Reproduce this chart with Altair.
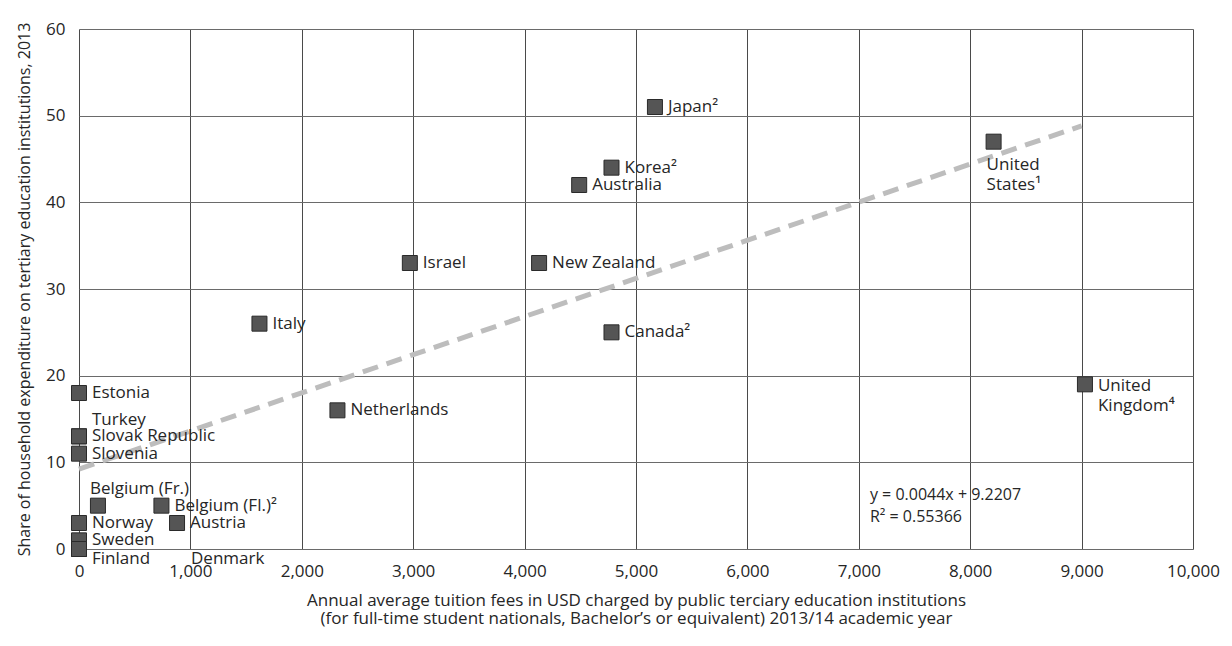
import altair as alt
import pandas as pd

# ---- data ----
countries = ["Japan²", "Korea²", "Australia", "United\nStates¹", "Israel", "New Zealand",
             "Italy", "Canada²", "Netherlands", "United\nKingdom⁴", "Estonia", "Turkey",
             "Slovak Republic", "Slovenia", "Belgium (Fr.)", "Belgium (Fl.)²", "Austria",
             "Norway", "Sweden", "Finland", "Denmark"]
tuition = [5170, 4780, 4490, 8210, 2970, 4130, 1620, 4780, 2320, 9030, 0, 0,
           0, 0, 170, 740, 880, 0, 0, 0, 0]
share = [51, 44, 42, 47, 33, 33, 26, 25, 16, 19, 18, 13,
         13, 11, 5, 5, 3, 3, 1, 0, 0]
# label placement category for each country
placement = ["right", "right", "right", "below2", "right", "right",
             "right", "right", "right", "right2", "right", "above_right",
             "right", "right", "above", "right", "right",
             "right", "right", "below", "below_far"]

slope = 0.0044
intercept = 9.2207
trend_x = [0, 9000]
equation_lines = ["y = 0.0044x + 9.2207", "R² = 0.55366"]
equation_pos = [7100, 6.2]

x_ticks = list(range(0, 10001, 1000))
y_ticks = list(range(0, 61, 10))

x_title = ["Annual average tuition fees in USD charged by public terciary education institutions",
           "(for full-time student nationals, Bachelor’s or equivalent) 2013/14 academic year"]
y_title = "Share of household expenditure on tertiary education institutions, 2013"

# ---- tables ----
df = pd.DataFrame({"country": countries, "tuition": tuition, "share": share,
                   "placement": placement})
trend = pd.DataFrame({"tuition": trend_x,
                      "share": [slope * v + intercept for v in trend_x]})
eq = pd.DataFrame({"text": ["\n".join(equation_lines)],
                   "tuition": [equation_pos[0]], "share": [equation_pos[1]]})

FONT = "Open Sans"
TXT = "#262626"
FS = 17

xscale = alt.Scale(domain=[0, 10000], nice=False, zero=False)
yscale = alt.Scale(domain=[0, 60], nice=False, zero=False)

xenc = alt.X("tuition:Q", scale=xscale,
             axis=alt.Axis(values=x_ticks, format=",.0f", title=x_title, grid=True,
                           gridColor="#4a4a4a", gridWidth=1, domain=False, ticks=False,
                           labelPadding=14, labelFlush=False, titlePadding=13,
                           labelFontSize=FS, titleFontSize=FS, titleFontWeight="normal",
                           labelColor=TXT, titleColor=TXT, labelFont=FONT, titleFont=FONT,
                           titleLineHeight=18))
yenc = alt.Y("share:Q", scale=yscale,
             axis=alt.Axis(values=y_ticks, title=y_title, grid=True,
                           gridColor="#6a6a6a", gridWidth=1, domain=False, ticks=False,
                           labelPadding=14, titlePadding=13,
                           labelFontSize=FS, titleFontSize=16, titleFontWeight="normal",
                           labelColor=TXT, titleColor=TXT, labelFont=FONT, titleFont=FONT))

base = alt.Chart(df)

trend_line = alt.Chart(trend).mark_line(color="#bdbdbd", strokeWidth=5,
                                        strokeDash=[16, 9]).encode(x=xenc, y=yenc)

points = base.mark_point(shape="square", filled=True, size=225, fill="#555555",
                         stroke="#2a2a2a", strokeWidth=1, opacity=1).encode(
    x=alt.X("tuition:Q", scale=xscale), y=alt.Y("share:Q", scale=yscale))

styles = {
    "right": dict(dx=13, dy=0, align="left", baseline="middle"),
    "right2": dict(dx=13, dy=-6, align="left", baseline="top"),
    "below2": dict(dx=-7, dy=15, align="left", baseline="top"),
    "above_right": dict(dx=13, dy=-16, align="left", baseline="middle"),
    "above": dict(dx=-8, dy=-17, align="left", baseline="middle"),
    "below": dict(dx=13, dy=10, align="left", baseline="middle"),
    "below_far": dict(dx=112, dy=10, align="left", baseline="middle"),
}

label_layers = []
for p, st in styles.items():
    label_layers.append(
        base.transform_filter(alt.datum.placement == p).mark_text(
            font=FONT, fontSize=FS, color=TXT, lineBreak="\n", lineHeight=20, **st
        ).encode(x=alt.X("tuition:Q", scale=xscale), y=alt.Y("share:Q", scale=yscale),
                 text="country:N")
    )

eq_text = alt.Chart(eq).mark_text(font=FONT, fontSize=16, color=TXT, align="left",
                                  baseline="middle", lineBreak="\n", lineHeight=22).encode(
    x=alt.X("tuition:Q", scale=xscale), y=alt.Y("share:Q", scale=yscale), text="text:N")

chart = alt.layer(trend_line, points, *label_layers, eq_text).properties(
    width=1114, height=520,
    padding={"left": 8, "top": 12, "right": 0, "bottom": 6},
).configure_view(stroke="#1a1a1a", strokeWidth=1).configure(background="white")

chart.save("out.html", embed_options={"renderer": "svg", "actions": False})
